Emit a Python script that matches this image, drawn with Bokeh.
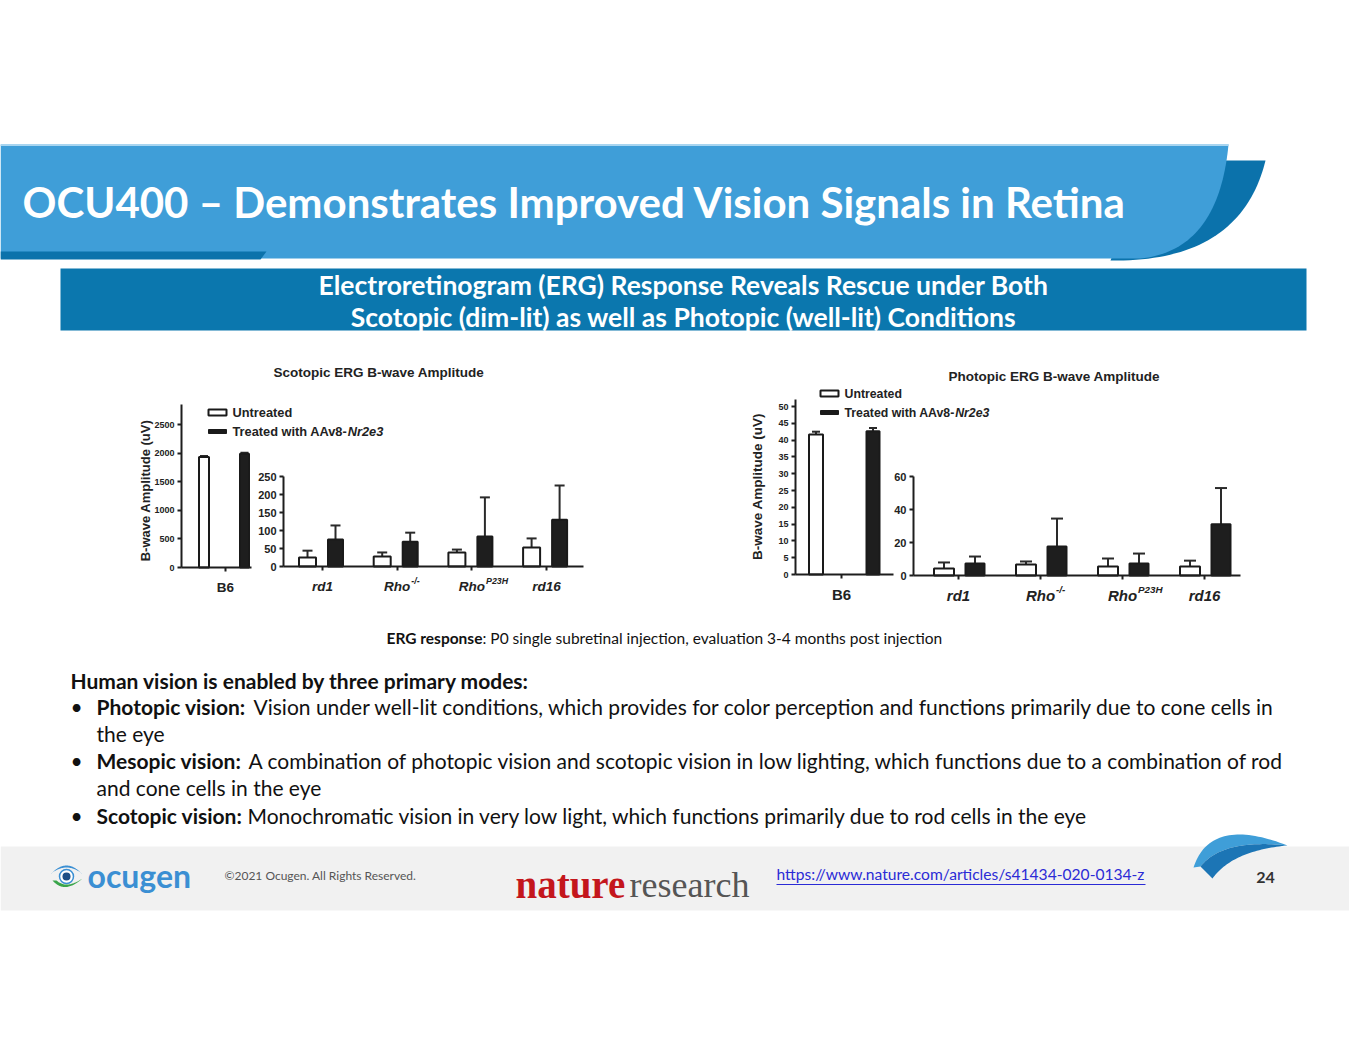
import numpy as np
from bokeh.plotting import figure
from bokeh.models import Range1d, LinearAxis, FixedTicker
from bokeh.core.properties import value
from bokeh.embed import file_html
from bokeh.resources import INLINE

# ---------------- data ----------------
categories = ["B6", "rd1", "Rho", "Rho", "rd16"]
category_sup = ["", "", "-/-", "P23H", ""]
category_italic = [False, True, True, True, True]

scot_untreated = [1930, 25, 28, 39, 53]
scot_untreated_err = [1948, 44, 39, 47, 78]
scot_treated = [1990, 75, 69, 83, 130]
scot_treated_err = [2005, 114, 94, 192, 225]
scot_b6_ticks = [0, 500, 1000, 1500, 2000, 2500]
scot_mut_ticks = [0, 50, 100, 150, 200, 250]

phot_untreated = [41.7, 4.2, 6.7, 5.5, 5.5]
phot_untreated_err = [42.5, 7.9, 8.5, 10.3, 9.0]
phot_treated = [42.6, 7.3, 17.6, 7.3, 31.0]
phot_treated_err = [43.6, 11.5, 34.5, 13.3, 53.0]
phot_b6_ticks = [0, 5, 10, 15, 20, 25, 30, 35, 40, 45, 50]
phot_mut_ticks = [0, 20, 40, 60]

legend_labels = ["Untreated", "Treated with AAv8-", "Nr2e3"]
scot_title = "Scotopic ERG B-wave Amplitude"
phot_title = "Photopic ERG B-wave Amplitude"
y_label = "B-wave Amplitude (uV)"

slide_title = "OCU400 \u2013 Demonstrates Improved Vision Signals in Retina"
subtitle_lines = ["Electroretinogram (ERG) Response Reveals Rescue under Both",
                  "Scotopic (dim-lit) as well as Photopic (well-lit) Conditions"]

# ---------------- page figure in screen pixels ----------------
W, H = 1349, 1039
X0, Y0 = 0, 0
X1, Y1 = X0 + W, Y0 + H

p = figure(width=W, height=H, x_range=Range1d(X0, X1), y_range=Range1d(Y1, Y0),
           output_backend="svg", toolbar_location=None, min_border=0,
           x_axis_type=None, y_axis_type=None)
p.min_border_left = p.min_border_right = p.min_border_top = p.min_border_bottom = 0
p.outline_line_color = None
p.grid.visible = False
p.background_fill_color = "white"
p.border_fill_color = "white"

SLIDE_FONT = value("Lato")
CHART_FONT = value("Liberation Sans")


def txt(x, y, s, size, color="#111111", style="normal", font=SLIDE_FONT, align="left",
        baseline="middle", angle=0.0, x_range_name="default", x_offset=0, y_offset=0):
    p.text(x=[x], y=[y], text=[s], text_font=font, text_font_size=f"{size}px",
           text_font_style=style, text_color=color, text_align=align,
           text_baseline=baseline, angle=angle, x_offset=x_offset, y_offset=y_offset,
           x_range_name=x_range_name)


def qbez(p0, c, p1, n=40):
    t = np.linspace(0, 1, n)[:, None]
    pts = (1 - t) ** 2 * np.array(p0) + 2 * (1 - t) * t * np.array(c) + t ** 2 * np.array(p1)
    return list(pts[:, 0]), list(pts[:, 1])


# ---------------- title banner ----------------
LIGHT = "#3f9ed8"
DARK = "#0b72ab"
bx, by = qbez((1265, 160), (1240, 262), (1110, 260))
p.patch([1150, 1265] + bx[1:] + [1110], [160, 160] + by[1:] + [260], fill_color=DARK, line_color=None)
bx, by = qbez((1228, 144), (1218, 250), (1140, 258))
p.patch([0] + bx + [0], [144] + by + [258], fill_color=LIGHT, line_color=None)
p.segment(x0=[0], y0=[144.5], x1=[1228], y1=[144.5], line_color="#a8d5f0", line_width=2)
p.patch([0, 266, 260, 0], [251, 251, 259, 259], fill_color=DARK, line_color=None)
txt(22, 201, slide_title, 42, color="white", style="bold")

# ---------------- subtitle band ----------------
p.quad(left=[60], right=[1306], top=[268], bottom=[330], fill_color="#0b77ae", line_color=None)
txt(683, 284, subtitle_lines[0], 26.5, color="white", style="bold", align="center")
txt(683, 316, subtitle_lines[1], 26.5, color="white", style="bold", align="center")


# ---------------- bar chart panels ----------------
def panel(key, idx0, untreated, u_err, treated, t_err, y_zero, y_scale, x_tick0, x_step,
          ax_left, ax_right, y_top, yticks, u_off, t_off, u_w, t_w, tick_px, cap_px,
          label_px, label_standoff):
    yr, xr = key + "_y", key + "_x"
    p.extra_y_ranges[yr] = Range1d(start=(y_zero - Y1) / y_scale, end=(y_zero - Y0) / y_scale)
    p.extra_x_ranges[xr] = Range1d(start=(X0 - x_tick0) / x_step, end=(X1 - x_tick0) / x_step)
    n = len(untreated)
    idx = np.arange(n, dtype=float)
    xu = idx + u_off / x_step
    xt = idx + t_off / x_step
    cap = cap_px / x_step
    kw = dict(x_range_name=xr, y_range_name=yr)
    # error bars (upper only)
    for xs, tops, errs in ((xu, untreated, u_err), (xt, treated, t_err)):
        p.segment(x0=list(xs), y0=list(tops), x1=list(xs), y1=list(errs),
                  line_color="#2a2a2a", line_width=2, **kw)
        p.segment(x0=list(xs - cap), y0=list(errs), x1=list(xs + cap), y1=list(errs),
                  line_color="#2a2a2a", line_width=2, **kw)
    p.vbar(x=list(xu), width=u_w / x_step, top=untreated, bottom=0, fill_color="white",
           line_color="#1a1a1a", line_width=2, **kw)
    p.vbar(x=list(xt), width=t_w / x_step, top=treated, bottom=0, fill_color="#1e1e1e",
           line_color="#1a1a1a", line_width=2, **kw)
    # axes
    ya = LinearAxis(x_range_name=xr, y_range_name=yr, fixed_location=(ax_left - x_tick0) / x_step,
                    bounds=(0, y_top), ticker=FixedTicker(ticks=yticks, minor_ticks=[]))
    xa = LinearAxis(x_range_name=xr, y_range_name=yr, fixed_location=0,
                    bounds=((ax_left - x_tick0) / x_step, (ax_right - x_tick0) / x_step),
                    ticker=FixedTicker(ticks=list(idx), minor_ticks=[]))
    for a in (ya, xa):
        a.axis_line_width = 2
        a.axis_line_color = "#1e1e1e"
        a.major_tick_line_width = 2
        a.major_tick_line_color = "#1e1e1e"
        a.major_tick_in = 0
        a.major_tick_out = 4
        a.minor_tick_line_color = None
        a.major_label_text_font = "Liberation Sans"
        a.major_label_text_font_style = "bold"
        a.major_label_text_color = "#222222"
        a.major_label_text_font_size = f"{tick_px}px"
        a.major_label_standoff = 3
    # category labels on the x axis
    cats = [categories[idx0 + i] for i in range(n)]
    xa.major_label_overrides = {float(i): cats[i] for i in range(n)}
    xa.major_label_text_font_size = f"{label_px}px"
    xa.major_label_text_font_style = "bold italic" if category_italic[idx0] else "bold"
    xa.major_label_standoff = label_standoff
    p.add_layout(ya, "left")
    p.add_layout(xa, "below")
    # superscripts of the genotype labels
    label_y = y_zero + 4 + label_standoff + label_px * 0.55
    for i in range(n):
        sup = category_sup[idx0 + i]
        if sup:
            main_w = 1.944 * label_px
            txt(i, label_y, sup, round(label_px * 0.65, 1), color="#222222", style="bold italic",
                font=CHART_FONT, align="left", x_range_name=xr, x_offset=main_w / 2 + 1,
                y_offset=-5)


# scotopic: B6 panel and mutant panel
panel("sb6", 0, scot_untreated[:1], scot_untreated_err[:1], scot_treated[:1], scot_treated_err[:1],
      y_zero=567, y_scale=143 / 2500, x_tick0=225, x_step=74.7, ax_left=181, ax_right=251,
      y_top=2850, yticks=scot_b6_ticks, u_off=-21.5, t_off=19, u_w=10, t_w=9, tick_px=9,
      cap_px=4, label_px=13.5, label_standoff=8)
panel("smu", 1, scot_untreated[1:], scot_untreated_err[1:], scot_treated[1:], scot_treated_err[1:],
      y_zero=566, y_scale=90 / 250, x_tick0=322, x_step=74.7, ax_left=283, ax_right=583,
      y_top=250, yticks=scot_mut_ticks, u_off=-15, t_off=13, u_w=17, t_w=15, tick_px=11,
      cap_px=5, label_px=13.5, label_standoff=8)
# photopic
panel("pb6", 0, phot_untreated[:1], phot_untreated_err[:1], phot_treated[:1], phot_treated_err[:1],
      y_zero=574, y_scale=168 / 50, x_tick0=841, x_step=82, ax_left=795, ax_right=893,
      y_top=52, yticks=phot_b6_ticks, u_off=-25.5, t_off=31.5, u_w=14, t_w=13, tick_px=9,
      cap_px=4, label_px=15, label_standoff=7)
panel("pmu", 1, phot_untreated[1:], phot_untreated_err[1:], phot_treated[1:], phot_treated_err[1:],
      y_zero=575, y_scale=99 / 60, x_tick0=958, x_step=82, ax_left=913, ax_right=1240,
      y_top=60, yticks=phot_mut_ticks, u_off=-14.5, t_off=16.5, u_w=20, t_w=19, tick_px=11,
      cap_px=6, label_px=15, label_standoff=7)

# chart titles, y labels, legends
txt(273, 372, scot_title, 13.5, color="#222222", style="bold", font=CHART_FONT)
txt(948, 376, phot_title, 13.5, color="#222222", style="bold", font=CHART_FONT)
txt(145, 490, y_label, 13, color="#222222", style="bold", font=CHART_FONT, align="center",
    angle=np.pi / 2)
txt(757, 486, y_label, 13.5, color="#222222", style="bold", font=CHART_FONT, align="center",
    angle=np.pi / 2)

for (lx, ly0, ly1, fs) in ((208, 412, 431, 12.8), (820, 393, 412, 12.3)):
    p.rect(x=[lx + 9], y=[ly0], width=18, height=6, fill_color="white", line_color="#1a1a1a",
           line_width=2)
    p.rect(x=[lx + 9], y=[ly1], width=18, height=4, fill_color="#1a1a1a", line_color="#1a1a1a",
           line_width=1)
    txt(lx + 24, ly0, legend_labels[0], fs, color="#222222", style="bold", font=CHART_FONT)
    txt(lx + 24, ly1, legend_labels[1], fs, color="#222222", style="bold", font=CHART_FONT)
    txt(lx + 24 + 9.0 * fs, ly1, legend_labels[2], fs, color="#222222", style="bold italic",
        font=CHART_FONT)

# ---------------- caption ----------------
txt(386, 637, "ERG response", 15.5, style="bold")
txt(482, 637, ": P0 single subretinal injection, evaluation 3-4 months post injection", 15.5)

# ---------------- body text ----------------
BODY = 21
txt(70, 680, "Human vision is enabled by three primary modes:", BODY, style="bold")
bullets = [
    (706, "Photopic vision:", 253,
     "Vision under well-lit conditions, which provides for color perception and functions primarily due to cone cells in",
     "the eye"),
    (760, "Mesopic vision:", 248,
     "A combination of photopic vision and scotopic vision in low lighting, which functions due to a combination of rod",
     "and cone cells in the eye"),
    (815, "Scotopic vision:", 247,
     "Monochromatic vision in very low light, which functions primarily due to rod cells in the eye", None),
]
for (yy, head, rx, rest, cont) in bullets:
    txt(70, yy, "\u2022", BODY)
    txt(96, yy, head, BODY, style="bold")
    txt(rx, yy, rest, BODY)
    if cont:
        txt(96, yy + 27, cont, BODY)

# ---------------- footer ----------------
p.quad(left=[0], right=[1365], top=[846], bottom=[910], fill_color="#f1f1f1", line_color=None)
# ocugen eye icon
ex, ey = qbez((50, 874), (66, 856), (82, 874))
ex2, ey2 = qbez((80, 872), (66, 862), (52, 872))
p.patch(ex + ex2, ey + ey2, fill_color="#3b8fd3", line_color=None)
p.scatter(x=[66], y=[876], size=14, fill_color="white", line_color="#3b8fd3", line_width=1.5)
p.scatter(x=[66], y=[876], size=8, fill_color="#1d4f86", line_color=None)
gx, gy = qbez((52, 880), (64, 894), (82, 878))
gx2, gy2 = qbez((82, 878), (66, 889), (56, 880))
p.patch(gx + gx2, gy + gy2, fill_color="#3aa54a", line_color=None)
txt(87, 875, "ocugen", 32, color="#3b8fd3", style="bold")
txt(224, 875, "\u00a92021  Ocugen. All Rights Reserved.", 12, color="#555555")
txt(515, 884, "nature", 39, color="#c4161c", style="bold", font=value("Liberation Serif"),
    baseline="alphabetic")
txt(629, 884, "research", 36, color="#555555", font=value("Liberation Serif"),
    baseline="alphabetic")
url = "https://www.nature.com/articles/s41434-020-0134-z"
txt(776, 873, url, 15.6, color="#2b2bd6")
p.segment(x0=[776], y0=[884], x1=[1145], y1=[884], line_color="#2b2bd6", line_width=1)
# swoosh
sx1, sy1 = qbez((1193, 867), (1210, 815), (1287, 845))
sx2, sy2 = qbez((1287, 845), (1222, 838), (1200, 866))
p.patch(sx1 + sx2, sy1 + sy2, fill_color="#3f9ed8", line_color=None)
sx3, sy3 = qbez((1200, 866), (1222, 838), (1287, 845))
sx4, sy4 = qbez((1287, 845), (1232, 850), (1212, 878))
p.patch(sx3 + sx4, sy3 + sy4, fill_color="#1c75b5", line_color=None)
txt(1265, 877, "24", 16, color="#333333", style="bold", align="center")

open("out.html", "w").write(file_html(p, INLINE))
